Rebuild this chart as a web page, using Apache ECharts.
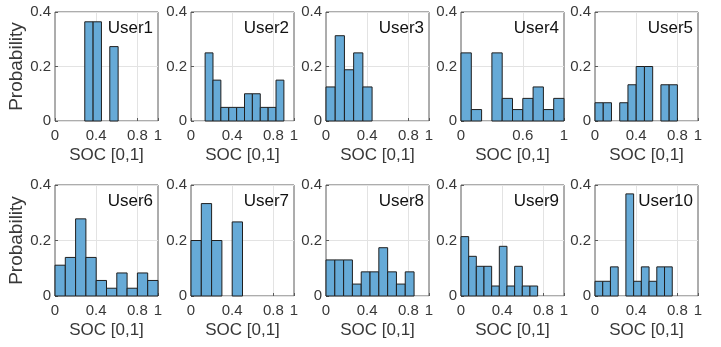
<!DOCTYPE html>
<html>
<head>
<meta charset="utf-8">
<script src="https://cdn.jsdelivr.net/npm/echarts@6/dist/echarts.min.js"></script>
<style>
html,body{margin:0;padding:0;background:#fff;}
#chart{width:721px;height:347px;}
</style>
</head>
<body>
<div id="chart"></div>
<script>
// ---- data ----
const users = ['User1','User2','User3','User4','User5','User6','User7','User8','User9','User10'];
const binStart = [0.289, 0.137, 0, 0, 0, 0, 0, 0, 0, 0];
const binWidth = [0.081, 0.0765, 0.0895, 0.1, 0.08, 0.1, 0.1, 0.0855, 0.0744, 0.075];
const prob1  = [0.364, 0.364, 0, 0.273];
const prob2  = [0.25, 0.15, 0.05, 0.05, 0.05, 0.1, 0.1, 0.05, 0.05, 0.15];
const prob3  = [0.125, 0.313, 0.188, 0.25, 0.125];
const prob4  = [0.25, 0.042, 0, 0.25, 0.083, 0.042, 0.083, 0.125, 0.042, 0.083];
const prob5  = [0.067, 0.067, 0, 0.067, 0.133, 0.2, 0.2, 0, 0.133, 0.133];
const prob6  = [0.111, 0.139, 0.278, 0.139, 0.056, 0.028, 0.083, 0.028, 0.083, 0.056];
const prob7  = [0.2, 0.333, 0.2, 0, 0.267];
const prob8  = [0.13, 0.13, 0.13, 0.043, 0.087, 0.087, 0.174, 0.087, 0.043, 0.087];
const prob9  = [0.214, 0.143, 0.107, 0.107, 0.036, 0.179, 0.036, 0.107, 0.036, 0.036];
const prob10 = [0.053, 0.053, 0.105, 0, 0.368, 0.053, 0.105, 0.053, 0.105, 0.105];
const probs = [prob1, prob2, prob3, prob4, prob5, prob6, prob7, prob8, prob9, prob10];
const xTicksDefault = [0, 0.4, 0.8, 1];
const xTicksUser4 = [0, 0.6, 1];
const xName = 'SOC [0,1]';
const yName = 'Probability';

// ---- layout ----
const colLeft = [55, 191, 326, 461, 595];
const rowTop = [12, 185];
const rowH = [109, 111];
const panelW = 103;
const FONT = '"Liberation Sans", Arial, Helvetica, sans-serif';
const TXT = '#383838';
const GRIDC = '#e3e3e3';

function renderItem(params, api) {
  const x0 = api.value(0), x1 = api.value(1), y = api.value(2);
  if (y <= 0) return null;
  const p0 = api.coord([x0, y]);
  const p1 = api.coord([x1, 0]);
  return {
    type: 'rect',
    shape: { x: p0[0], y: p0[1], width: p1[0] - p0[0], height: p1[1] - p0[1] },
    style: { fill: '#66aad7', stroke: '#1f1f1f', lineWidth: 1 }
  };
}

const grid = [], xAxis = [], yAxis = [], series = [], title = [];
for (let i = 0; i < 10; i++) {
  const r = Math.floor(i / 5), c = i % 5;
  const left = colLeft[c], top = rowTop[r];
  grid.push({ left: left, top: top, width: panelW, height: rowH[r], show: true,
    borderColor: '#5a5a5a', borderWidth: 1, containLabel: false });
  const xt = (i === 3) ? xTicksUser4 : xTicksDefault;
  xAxis.push({
    type: 'value', gridIndex: i, min: 0, max: 1,
    name: xName, nameLocation: 'middle', nameGap: 26,
    nameTextStyle: { fontFamily: FONT, fontSize: 17, color: TXT },
    axisLine: { show: false },
    axisTick: { show: true, inside: true, length: 3, customValues: xt, lineStyle: { color: '#5a5a5a' } },
    axisLabel: { customValues: xt, fontFamily: FONT, fontSize: 15, color: TXT, margin: 7,
      formatter: v => String(+v.toFixed(2)) },
    splitLine: { show: false }
  });
  yAxis.push({
    type: 'value', gridIndex: i, min: 0, max: 0.4, interval: 0.2,
    name: c === 0 ? yName : '', nameLocation: 'middle', nameGap: 27,
    nameTextStyle: { fontFamily: FONT, fontSize: 19, color: TXT },
    axisLine: { show: false },
    axisTick: { show: true, inside: true, length: 3, lineStyle: { color: '#5a5a5a' } },
    axisLabel: { fontFamily: FONT, fontSize: 15, color: TXT, margin: 4,
      formatter: v => String(+v.toFixed(2)) },
    splitLine: { show: true, lineStyle: { color: GRIDC, width: 1 } }
  });
  // vertical grid lines at the interior x ticks, drawn beneath the bars
  series.push({ type: 'line', xAxisIndex: i, yAxisIndex: i, data: [], z: 0, silent: true,
    markLine: { z: 0, silent: true, symbol: 'none', label: { show: false }, animation: false,
      lineStyle: { color: GRIDC, width: 1, type: 'solid' },
      data: xt.filter(v => v > 0 && v < 1).map(v => ({ xAxis: v })) } });
  const data = probs[i].map((p, k) => [binStart[i] + k * binWidth[i], binStart[i] + (k + 1) * binWidth[i], p]);
  series.push({ type: 'custom', xAxisIndex: i, yAxisIndex: i, renderItem: renderItem, z: 6,
    data: data, encode: { x: [0, 1], y: 2 }, clip: false });
  title.push({ text: users[i], right: 721 - (left + panelW - 5), top: top + 8, padding: 0,
    textStyle: { fontFamily: FONT, fontSize: 17, fontWeight: 'normal', color: '#111' } });
}

const chart = echarts.init(document.getElementById('chart'), null, { renderer: 'canvas' });
chart.setOption({ animation: false, backgroundColor: '#fff', title, grid, xAxis, yAxis, series });
</script>
</body>
</html>
